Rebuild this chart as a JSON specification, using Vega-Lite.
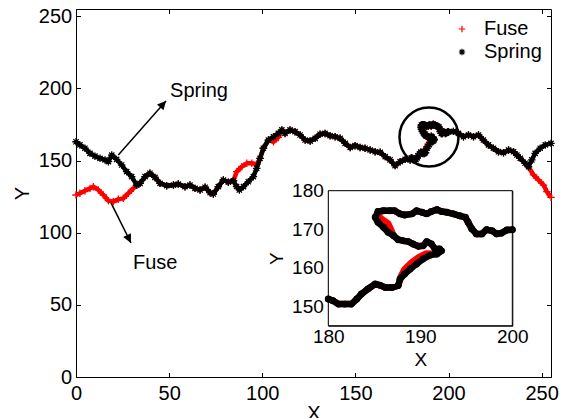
{
  "$schema": "https://vega.github.io/schema/vega-lite/v6.json",
  "width": 475,
  "height": 368,
  "autosize": "none",
  "padding": {"left": 76, "top": 9, "right": 14, "bottom": 41},
  "background": "white",
  "config": {
    "view": {"stroke": null},
    "font": "Liberation Sans",
    "axis": {"labelFont": "Liberation Sans", "titleFont": "Liberation Sans", "labelColor": "black", "titleColor": "black", "domainColor": "black", "tickColor": "black", "grid": false, "titleFontWeight": "normal", "domainWidth": 1, "tickWidth": 1, "labelFlush": false, "zindex": 1},
    "legend": {"labelFont": "Liberation Sans", "labelColor": "black"}
  },
  "datasets": {
    "track": [
      {"s":"Fuse","x":0,"y":126.1},{"s":"Fuse","x":2.1,"y":127.3},{"s":"Fuse","x":4.8,"y":129.1},{"s":"Fuse","x":7.5,"y":130.7},{"s":"Fuse","x":9.3,"y":131.9},{"s":"Fuse","x":12,"y":129.6},{"s":"Fuse","x":14.7,"y":126.1},{"s":"Fuse","x":17.4,"y":122.2},{"s":"Fuse","x":20,"y":121.5},{"s":"Fuse","x":22.7,"y":123.1},{"s":"Fuse","x":25.4,"y":123.8},{"s":"Fuse","x":28.1,"y":127.3},{"s":"Fuse","x":30.8,"y":130.7},{"s":"Fuse","x":32.6,"y":133},{"s":"Fuse","x":34.4,"y":134.2},{"s":"Fuse","x":37.1,"y":138.8},{"s":"Fuse","x":39.7,"y":141.2},{"s":"Fuse","x":42.4,"y":138.3},{"s":"Fuse","x":45.1,"y":134.2},{"s":"Fuse","x":48.7,"y":132.6},{"s":"Fuse","x":52.3,"y":133},{"s":"Fuse","x":54.9,"y":133.7},{"s":"Fuse","x":58.5,"y":131.9},{"s":"Fuse","x":61.2,"y":133},{"s":"Fuse","x":63.9,"y":130.7},{"s":"Fuse","x":66.6,"y":129.6},{"s":"Fuse","x":69.3,"y":131.5},{"s":"Fuse","x":72,"y":127.7},{"s":"Fuse","x":73.7,"y":126.8},{"s":"Fuse","x":76.4,"y":131.9},{"s":"Fuse","x":79.1,"y":136.5},{"s":"Fuse","x":81.8,"y":135},{"s":"Fuse","x":84.5,"y":136},{"s":"Fuse","x":86.3,"y":142.3},{"s":"Fuse","x":89,"y":145.7},{"s":"Fuse","x":91.7,"y":148.1},{"s":"Fuse","x":94.4,"y":148.1},{"s":"Fuse","x":97.2,"y":147.5},{"s":"Fuse","x":98.8,"y":151.5},{"s":"Fuse","x":100.6,"y":158.5},{"s":"Fuse","x":103.3,"y":164.2},{"s":"Fuse","x":106,"y":163},{"s":"Fuse","x":108.6,"y":166},{"s":"Fuse","x":110.5,"y":171.2},{"s":"Fuse","x":112.2,"y":168.8},{"s":"Fuse","x":114.9,"y":171.2},{"s":"Fuse","x":117.6,"y":170},{"s":"Fuse","x":120.3,"y":167.7},{"s":"Fuse","x":123,"y":164.2},{"s":"Fuse","x":125.7,"y":163.5},{"s":"Fuse","x":128.4,"y":165.4},{"s":"Fuse","x":131,"y":168.2},{"s":"Fuse","x":133.7,"y":168.8},{"s":"Fuse","x":136.4,"y":167.2},{"s":"Fuse","x":139.1,"y":166.5},{"s":"Fuse","x":141.8,"y":165.4},{"s":"Fuse","x":144.5,"y":161.9},{"s":"Fuse","x":147.2,"y":159.1},{"s":"Fuse","x":149.8,"y":160.3},{"s":"Fuse","x":152.5,"y":159.1},{"s":"Fuse","x":155.2,"y":158.5},{"s":"Fuse","x":157.9,"y":157.3},{"s":"Fuse","x":160.6,"y":156.1},{"s":"Fuse","x":163.3,"y":155.7},{"s":"Fuse","x":166,"y":152.7},{"s":"Fuse","x":168.6,"y":150.4},{"s":"Fuse","x":171.3,"y":146.5},{"s":"Fuse","x":174,"y":149.2},{"s":"Fuse","x":176.7,"y":150.8},{"s":"Fuse","x":179.4,"y":150.4},{"s":"Fuse","x":180,"y":151.9},{"s":"Fuse","x":180.5,"y":151.5},{"s":"Fuse","x":181.1,"y":150.6},{"s":"Fuse","x":181.8,"y":150.6},{"s":"Fuse","x":182.5,"y":150.6},{"s":"Fuse","x":183.1,"y":151.9},{"s":"Fuse","x":183.6,"y":153.2},{"s":"Fuse","x":184.3,"y":154.5},{"s":"Fuse","x":185.1,"y":155.8},{"s":"Fuse","x":185.6,"y":155.5},{"s":"Fuse","x":186.2,"y":154.9},{"s":"Fuse","x":186.9,"y":154.9},{"s":"Fuse","x":187.6,"y":155.4},{"s":"Fuse","x":187.9,"y":157.8},{"s":"Fuse","x":188.3,"y":159.7},{"s":"Fuse","x":189,"y":161.3},{"s":"Fuse","x":189.8,"y":162.7},{"s":"Fuse","x":190.6,"y":163.7},{"s":"Fuse","x":191.8,"y":163.6},{"s":"Fuse","x":192.3,"y":164.4},{"s":"Fuse","x":192.1,"y":164.9},{"s":"Fuse","x":191.6,"y":164.9},{"s":"Fuse","x":191.2,"y":166.2},{"s":"Fuse","x":190.7,"y":166.8},{"s":"Fuse","x":190.3,"y":165.7},{"s":"Fuse","x":189.8,"y":165.6},{"s":"Fuse","x":189.2,"y":166.2},{"s":"Fuse","x":188.7,"y":166.8},{"s":"Fuse","x":188.2,"y":167},{"s":"Fuse","x":187.6,"y":167.3},{"s":"Fuse","x":187.1,"y":168.3},{"s":"Fuse","x":186.8,"y":170},{"s":"Fuse","x":186.5,"y":171.5},{"s":"Fuse","x":185.6,"y":173},{"s":"Fuse","x":185.4,"y":174.6},{"s":"Fuse","x":186,"y":174.8},{"s":"Fuse","x":186.7,"y":174.8},{"s":"Fuse","x":187.2,"y":174.8},{"s":"Fuse","x":187.8,"y":174},{"s":"Fuse","x":188.3,"y":173.7},{"s":"Fuse","x":189.1,"y":174},{"s":"Fuse","x":189.6,"y":174.8},{"s":"Fuse","x":190.2,"y":174.4},{"s":"Fuse","x":190.7,"y":174},{"s":"Fuse","x":191.2,"y":174.6},{"s":"Fuse","x":191.8,"y":175.1},{"s":"Fuse","x":192.3,"y":174.6},{"s":"Fuse","x":192.9,"y":174.4},{"s":"Fuse","x":193.6,"y":174},{"s":"Fuse","x":194.3,"y":173.5},{"s":"Fuse","x":194.9,"y":173.1},{"s":"Fuse","x":195.2,"y":171.8},{"s":"Fuse","x":195.6,"y":170.1},{"s":"Fuse","x":196.1,"y":168.8},{"s":"Fuse","x":196.7,"y":168.8},{"s":"Fuse","x":197.2,"y":169.9},{"s":"Fuse","x":197.8,"y":169.6},{"s":"Fuse","x":198.3,"y":168.8},{"s":"Fuse","x":198.8,"y":169},{"s":"Fuse","x":199.4,"y":169.8},{"s":"Fuse","x":200,"y":169.9},{"s":"Fuse","x":202.6,"y":170.2},{"s":"Fuse","x":205.3,"y":168.8},{"s":"Fuse","x":208,"y":166.5},{"s":"Fuse","x":210.7,"y":167.7},{"s":"Fuse","x":213.4,"y":166.5},{"s":"Fuse","x":216.1,"y":167.7},{"s":"Fuse","x":218.7,"y":164.2},{"s":"Fuse","x":221.4,"y":160.8},{"s":"Fuse","x":224.1,"y":158.5},{"s":"Fuse","x":226.8,"y":156.1},{"s":"Fuse","x":229.5,"y":155.4},{"s":"Fuse","x":232.2,"y":157.3},{"s":"Fuse","x":234.9,"y":156.1},{"s":"Fuse","x":236.7,"y":153.8},{"s":"Fuse","x":238.5,"y":151.5},{"s":"Fuse","x":241.1,"y":148.1},{"s":"Fuse","x":242.9,"y":145.7},{"s":"Fuse","x":245.6,"y":140},{"s":"Fuse","x":248.3,"y":136.5},{"s":"Fuse","x":251,"y":133},{"s":"Fuse","x":252.8,"y":128.4},{"s":"Fuse","x":255,"y":124.5},
      {"s":"Spring","x":0,"y":163},{"s":"Spring","x":2.1,"y":160.8},{"s":"Spring","x":4.8,"y":158.5},{"s":"Spring","x":7.5,"y":155},{"s":"Spring","x":10.2,"y":153},{"s":"Spring","x":12.9,"y":151.5},{"s":"Spring","x":15.6,"y":150.4},{"s":"Spring","x":17.4,"y":149.2},{"s":"Spring","x":19.2,"y":153.8},{"s":"Spring","x":21.8,"y":150.8},{"s":"Spring","x":24.5,"y":146.9},{"s":"Spring","x":27.2,"y":142.3},{"s":"Spring","x":29.9,"y":138.8},{"s":"Spring","x":32.6,"y":133},{"s":"Spring","x":34.4,"y":134.2},{"s":"Spring","x":37.1,"y":138.8},{"s":"Spring","x":39.7,"y":141.2},{"s":"Spring","x":42.4,"y":138.3},{"s":"Spring","x":45.1,"y":134.2},{"s":"Spring","x":48.7,"y":132.6},{"s":"Spring","x":52.3,"y":133},{"s":"Spring","x":54.9,"y":133.7},{"s":"Spring","x":58.5,"y":131.9},{"s":"Spring","x":61.2,"y":133},{"s":"Spring","x":63.9,"y":130.7},{"s":"Spring","x":66.6,"y":129.6},{"s":"Spring","x":69.3,"y":131.5},{"s":"Spring","x":72,"y":127.7},{"s":"Spring","x":73.7,"y":126.8},{"s":"Spring","x":76.4,"y":131.9},{"s":"Spring","x":79.1,"y":136.5},{"s":"Spring","x":81.8,"y":135},{"s":"Spring","x":84.5,"y":136},{"s":"Spring","x":86.2,"y":132},{"s":"Spring","x":87.7,"y":129.6},{"s":"Spring","x":89.9,"y":131.9},{"s":"Spring","x":92.5,"y":135.3},{"s":"Spring","x":95.2,"y":138.8},{"s":"Spring","x":97,"y":144.6},{"s":"Spring","x":98.8,"y":151.5},{"s":"Spring","x":100.6,"y":158.5},{"s":"Spring","x":103.3,"y":164.2},{"s":"Spring","x":106,"y":166.5},{"s":"Spring","x":108.6,"y":168.8},{"s":"Spring","x":110.5,"y":171.2},{"s":"Spring","x":112.2,"y":168.8},{"s":"Spring","x":114.9,"y":171.2},{"s":"Spring","x":117.6,"y":170},{"s":"Spring","x":120.3,"y":167.7},{"s":"Spring","x":123,"y":164.2},{"s":"Spring","x":125.7,"y":163.5},{"s":"Spring","x":128.4,"y":165.4},{"s":"Spring","x":131,"y":168.2},{"s":"Spring","x":133.7,"y":168.8},{"s":"Spring","x":136.4,"y":167.2},{"s":"Spring","x":139.1,"y":166.5},{"s":"Spring","x":141.8,"y":165.4},{"s":"Spring","x":144.5,"y":161.9},{"s":"Spring","x":147.2,"y":159.1},{"s":"Spring","x":149.8,"y":160.3},{"s":"Spring","x":152.5,"y":159.1},{"s":"Spring","x":155.2,"y":158.5},{"s":"Spring","x":157.9,"y":157.3},{"s":"Spring","x":160.6,"y":156.1},{"s":"Spring","x":163.3,"y":155.7},{"s":"Spring","x":166,"y":152.7},{"s":"Spring","x":168.6,"y":150.4},{"s":"Spring","x":171.3,"y":146.5},{"s":"Spring","x":174,"y":149.2},{"s":"Spring","x":176.7,"y":150.8},{"s":"Spring","x":179.4,"y":150.4},{"s":"Spring","x":180,"y":151.9},{"s":"Spring","x":180.5,"y":151.5},{"s":"Spring","x":181.1,"y":150.6},{"s":"Spring","x":181.8,"y":150.6},{"s":"Spring","x":182.5,"y":150.6},{"s":"Spring","x":183.1,"y":151.9},{"s":"Spring","x":183.6,"y":153.2},{"s":"Spring","x":184.3,"y":154.5},{"s":"Spring","x":185.1,"y":155.8},{"s":"Spring","x":185.6,"y":155.5},{"s":"Spring","x":186.2,"y":154.9},{"s":"Spring","x":186.9,"y":154.9},{"s":"Spring","x":187.6,"y":155.4},{"s":"Spring","x":187.8,"y":157.1},{"s":"Spring","x":188.3,"y":158.4},{"s":"Spring","x":188.9,"y":159.7},{"s":"Spring","x":189.6,"y":161},{"s":"Spring","x":190.3,"y":162.3},{"s":"Spring","x":191.1,"y":163.3},{"s":"Spring","x":191.8,"y":163.6},{"s":"Spring","x":192.3,"y":164.4},{"s":"Spring","x":192.1,"y":164.9},{"s":"Spring","x":191.6,"y":164.9},{"s":"Spring","x":191.2,"y":166.2},{"s":"Spring","x":190.7,"y":166.8},{"s":"Spring","x":190.3,"y":165.7},{"s":"Spring","x":189.8,"y":165.6},{"s":"Spring","x":189.2,"y":166.2},{"s":"Spring","x":188.7,"y":166.8},{"s":"Spring","x":188.2,"y":167},{"s":"Spring","x":187.6,"y":167.3},{"s":"Spring","x":187.1,"y":168.3},{"s":"Spring","x":186.5,"y":169.2},{"s":"Spring","x":186,"y":170.5},{"s":"Spring","x":185.4,"y":171.8},{"s":"Spring","x":185.1,"y":173.1},{"s":"Spring","x":185.4,"y":174.6},{"s":"Spring","x":186,"y":174.8},{"s":"Spring","x":186.7,"y":174.8},{"s":"Spring","x":187.2,"y":174.8},{"s":"Spring","x":187.8,"y":174},{"s":"Spring","x":188.3,"y":173.7},{"s":"Spring","x":189.1,"y":174},{"s":"Spring","x":189.6,"y":174.8},{"s":"Spring","x":190.2,"y":174.4},{"s":"Spring","x":190.7,"y":174},{"s":"Spring","x":191.2,"y":174.6},{"s":"Spring","x":191.8,"y":175.1},{"s":"Spring","x":192.3,"y":174.6},{"s":"Spring","x":192.9,"y":174.4},{"s":"Spring","x":193.6,"y":174},{"s":"Spring","x":194.3,"y":173.5},{"s":"Spring","x":194.9,"y":173.1},{"s":"Spring","x":195.2,"y":171.8},{"s":"Spring","x":195.6,"y":170.1},{"s":"Spring","x":196.1,"y":168.8},{"s":"Spring","x":196.7,"y":168.8},{"s":"Spring","x":197.2,"y":169.9},{"s":"Spring","x":197.8,"y":169.6},{"s":"Spring","x":198.3,"y":168.8},{"s":"Spring","x":198.8,"y":169},{"s":"Spring","x":199.4,"y":169.8},{"s":"Spring","x":200,"y":169.9},{"s":"Spring","x":202.6,"y":170.2},{"s":"Spring","x":205.3,"y":168.8},{"s":"Spring","x":208,"y":166.5},{"s":"Spring","x":210.7,"y":167.7},{"s":"Spring","x":213.4,"y":166.5},{"s":"Spring","x":216.1,"y":167.7},{"s":"Spring","x":218.7,"y":164.2},{"s":"Spring","x":221.4,"y":160.8},{"s":"Spring","x":224.1,"y":158.5},{"s":"Spring","x":226.8,"y":156.1},{"s":"Spring","x":229.5,"y":155.4},{"s":"Spring","x":232.2,"y":157.3},{"s":"Spring","x":234.9,"y":156.1},{"s":"Spring","x":236.7,"y":153.8},{"s":"Spring","x":238.5,"y":151.5},{"s":"Spring","x":241.1,"y":148.1},{"s":"Spring","x":242.9,"y":145.7},{"s":"Spring","x":244.7,"y":150.4},{"s":"Spring","x":246.5,"y":155},{"s":"Spring","x":249.2,"y":158.5},{"s":"Spring","x":251.9,"y":160.8},{"s":"Spring","x":255,"y":161.9}
    ]
  },
  "layer": [
    {
      "layer": [
        {
          "data": {"name": "track"},
          "transform": [{"filter": "datum.s == 'Fuse'"}],
          "mark": {"type": "line", "color": "#ff0000", "strokeWidth": 4.5, "strokeJoin": "round"},
          "encoding": {
            "x": {"field": "x", "type": "quantitative", "scale": {"domain": [0, 255], "nice": false, "zero": false},
                  "axis": {"orient": "bottom", "title": "X", "values": [0, 50, 100, 150, 200, 250], "tickSize": -4.5, "labelPadding": 11, "labelFontSize": 20, "titleFontSize": 20, "titlePadding": 0}},
            "y": {"field": "y", "type": "quantitative", "scale": {"domain": [0, 255], "nice": false, "zero": false},
                  "axis": {"orient": "left", "title": "Y", "values": [0, 50, 100, 150, 200, 250], "tickSize": -4.5, "labelPadding": 8.8, "labelFontSize": 20, "titleFontSize": 20, "titlePadding": 6}},
            "order": {"value": null}
          }
        },
        {
          "data": {"name": "track"},
          "transform": [{"filter": "datum.s == 'Fuse'"}],
          "mark": {"type": "point", "filled": false, "strokeWidth": 1.3, "size": 56, "opacity": 1},
          "encoding": {
            "x": {"field": "x", "type": "quantitative", "axis": null},
            "y": {"field": "y", "type": "quantitative", "axis": null},
            "color": {"field": "s", "type": "nominal", "scale": {"domain": ["Fuse", "Spring"], "range": ["#ff0000", "#000000"]},
                      "legend": {"orient": "none", "legendX": 376, "legendY": 10, "title": null, "labelFontSize": 20, "rowPadding": 3, "labelOffset": 12, "padding": 0, "symbolStrokeWidth": 1.2, "symbolSize": 42}},
            "shape": {"field": "s", "type": "nominal", "scale": {"domain": ["Fuse", "Spring"], "range": ["M-1,0L1,0M0,-1L0,1", "M-1,0L1,0M0,-1L0,1M-0.7,-0.7L0.7,0.7M-0.7,0.7L0.7,-0.7"]},
                      "legend": {"orient": "none", "legendX": 376, "legendY": 10, "title": null, "labelFontSize": 20, "rowPadding": 3, "labelOffset": 12, "padding": 0, "symbolStrokeWidth": 1.2, "symbolSize": 42}}
          }
        },
        {
          "data": {"name": "track"},
          "transform": [{"filter": "datum.s == 'Spring'"}],
          "mark": {"type": "line", "color": "#000000", "strokeWidth": 4.5, "strokeJoin": "round"},
          "encoding": {
            "x": {"field": "x", "type": "quantitative", "axis": {"orient": "top", "title": null, "labels": false, "values": [0, 50, 100, 150, 200, 250], "tickSize": -4.5}},
            "y": {"field": "y", "type": "quantitative", "axis": {"orient": "right", "title": null, "labels": false, "values": [0, 50, 100, 150, 200, 250], "tickSize": -4.5}},
            "order": {"value": null}
          }
        },
        {
          "data": {"name": "track"},
          "transform": [{"filter": "datum.s == 'Spring'"}],
          "mark": {"type": "point", "filled": false, "strokeWidth": 1.3, "size": 56, "opacity": 1},
          "encoding": {
            "x": {"field": "x", "type": "quantitative", "axis": null},
            "y": {"field": "y", "type": "quantitative", "axis": null},
            "color": {"field": "s", "type": "nominal", "scale": {"domain": ["Fuse", "Spring"], "range": ["#ff0000", "#000000"]},
                      "legend": {"orient": "none", "legendX": 376, "legendY": 10, "title": null, "labelFontSize": 20, "rowPadding": 3, "labelOffset": 12, "padding": 0, "symbolStrokeWidth": 1.2, "symbolSize": 42}},
            "shape": {"field": "s", "type": "nominal", "scale": {"domain": ["Fuse", "Spring"], "range": ["M-1,0L1,0M0,-1L0,1", "M-1,0L1,0M0,-1L0,1M-0.7,-0.7L0.7,0.7M-0.7,0.7L0.7,-0.7"]},
                      "legend": {"orient": "none", "legendX": 376, "legendY": 10, "title": null, "labelFontSize": 20, "rowPadding": 3, "labelOffset": 12, "padding": 0, "symbolStrokeWidth": 1.2, "symbolSize": 42}}
          }
        },
        {
          "data": {"values": [{"x": 189.5, "y": 166.3}]},
          "mark": {"type": "point", "shape": "circle", "filled": false, "size": 3481, "stroke": "black", "strokeWidth": 2.5, "opacity": 1},
          "encoding": {
            "x": {"field": "x", "type": "quantitative", "axis": null},
            "y": {"field": "y", "type": "quantitative", "axis": null}
          }
        },
        {
          "data": {"values": [{"x": 22.7, "y": 153.8, "x2": 48.3, "y2": 191.3}, {"x": 18.8, "y": 120.6, "x2": 29.5, "y2": 92.9}]},
          "mark": {"type": "rule", "color": "black", "strokeWidth": 1.5},
          "encoding": {
            "x": {"field": "x", "type": "quantitative", "axis": null},
            "y": {"field": "y", "type": "quantitative", "axis": null},
            "x2": {"field": "x2"},
            "y2": {"field": "y2"}
          }
        },
        {
          "data": {"values": [{"x": 48.3, "y": 191.3}]},
          "mark": {"type": "point", "shape": "M0,0L-0.5,1L0.5,1Z", "filled": true, "color": "black", "size": 300, "angle": 41.5, "opacity": 1},
          "encoding": {
            "x": {"field": "x", "type": "quantitative", "axis": null},
            "y": {"field": "y", "type": "quantitative", "axis": null}
          }
        },
        {
          "data": {"values": [{"x": 29.5, "y": 92.9}]},
          "mark": {"type": "point", "shape": "M0,0L-0.5,1L0.5,1Z", "filled": true, "color": "black", "size": 300, "angle": 153.5, "opacity": 1},
          "encoding": {
            "x": {"field": "x", "type": "quantitative", "axis": null},
            "y": {"field": "y", "type": "quantitative", "axis": null}
          }
        },
        {
          "data": {"values": [{"x": 50.5, "y": 198.2, "t": "Spring"}, {"x": 30.6, "y": 79, "t": "Fuse"}]},
          "mark": {"type": "text", "align": "left", "baseline": "middle", "fontSize": 20, "font": "Liberation Sans", "color": "black"},
          "encoding": {
            "x": {"field": "x", "type": "quantitative", "axis": null},
            "y": {"field": "y", "type": "quantitative", "axis": null},
            "text": {"field": "t"}
          }
        }
      ],
      "resolve": {"axis": {"x": "independent", "y": "independent"}}
    },
    {
      "layer": [
        {
          "data": {"values": [{}]},
          "mark": {"type": "rect", "fill": "white", "stroke": "black", "strokeWidth": 1},
          "encoding": {
            "x": {"datum": 180, "type": "quantitative", "scale": {"domain": [180, 200], "range": [252.3, 436.3], "nice": false, "zero": false},
                  "axis": {"orient": "bottom", "offset": -51.3, "title": "X", "values": [180, 190, 200], "tickSize": -3, "labelPadding": 5, "labelFontSize": 19, "titleFontSize": 19, "titlePadding": 4}},
            "x2": {"datum": 200},
            "y": {"datum": 145, "type": "quantitative", "scale": {"domain": [145, 180], "range": [316.7, 181.7], "nice": false, "zero": false},
                  "axis": {"orient": "left", "offset": -252.3, "title": "Y", "values": [150, 160, 170, 180], "tickSize": -3, "labelPadding": 8, "labelFontSize": 19, "titleFontSize": 19, "titlePadding": 4.7}},
            "y2": {"datum": 180}
          }
        },
        {
          "data": {"name": "track"},
          "transform": [{"filter": "datum.s == 'Fuse' && datum.x >= 180 && datum.x <= 200"}],
          "mark": {"type": "line", "color": "#ff0000", "strokeWidth": 6.5, "strokeJoin": "round", "strokeCap": "round"},
          "encoding": {
            "x": {"field": "x", "type": "quantitative", "axis": null},
            "y": {"field": "y", "type": "quantitative", "axis": null},
            "order": {"value": null}
          }
        },
        {
          "data": {"name": "track"},
          "transform": [{"filter": "datum.s == 'Spring' && datum.x >= 180 && datum.x <= 200"}],
          "mark": {"type": "line", "color": "#000000", "strokeWidth": 6.5, "strokeJoin": "round", "strokeCap": "round"},
          "encoding": {
            "x": {"field": "x", "type": "quantitative", "axis": {"orient": "top", "offset": -181.7, "title": null, "labels": false, "values": [180, 190, 200], "tickSize": -3}},
            "y": {"field": "y", "type": "quantitative", "axis": {"orient": "right", "offset": -38.7, "title": null, "labels": false, "values": [150, 160, 170, 180], "tickSize": -3}},
            "order": {"value": null}
          }
        },
        {
          "data": {"name": "track"},
          "transform": [{"filter": "datum.s == 'Spring' && datum.x >= 180 && datum.x <= 200"}],
          "mark": {"type": "point", "shape": "circle", "filled": true, "color": "#000000", "size": 48, "opacity": 1},
          "encoding": {
            "x": {"field": "x", "type": "quantitative", "axis": null},
            "y": {"field": "y", "type": "quantitative", "axis": null}
          }
        }
      ],
      "resolve": {"axis": {"x": "independent", "y": "independent"}}
    }
  ],
  "resolve": {"scale": {"x": "independent", "y": "independent"}}
}
